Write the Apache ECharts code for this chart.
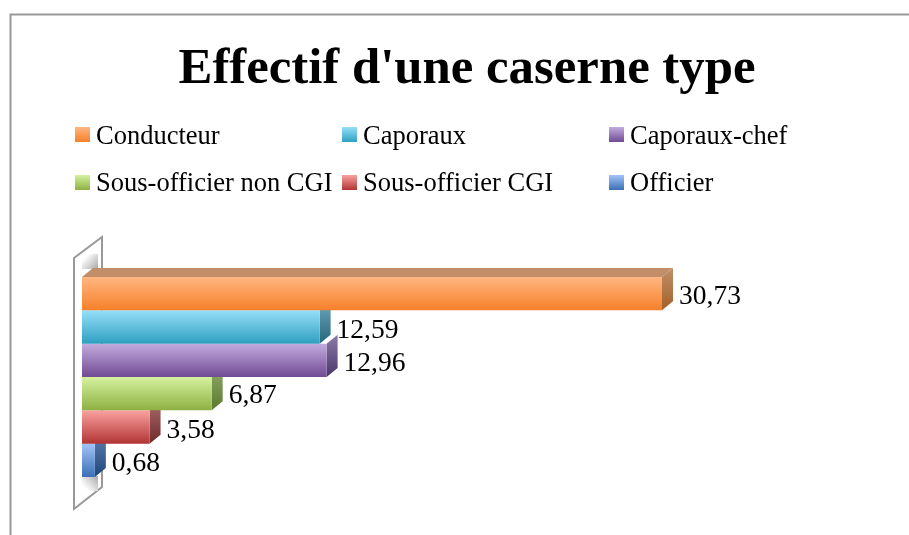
<!DOCTYPE html>
<html>
<head>
<meta charset="utf-8">
<title>Effectif d'une caserne type</title>
<style>
    html, body { margin: 0; padding: 0; background: #fff; }
    #main { width: 909px; height: 535px; }
</style>
<script src="https://cdn.jsdelivr.net/npm/echarts@6/dist/echarts.min.js"></script>
</head>
<body>
<div id="main"></div>
<script>
    var categories = ['Conducteur', 'Caporaux', 'Caporaux-chef', 'Sous-officier non CGI', 'Sous-officier CGI', 'Officier'];
    var values = [30.73, 12.59, 12.96, 6.87, 3.58, 0.68];
    var lightColors = ['#ffb681', '#96dff9', '#c3acdf', '#d5f29f', '#f9a2a0', '#a2c4f7'];
    var darkColors = ['#f6802a', '#2f9fc0', '#704a93', '#8eb042', '#b23434', '#3a6fb5'];
    var sideColors = ['#a3602a', '#24677c', '#47366a', '#5a7a2e', '#702a2a', '#1f4578'];
    var topColors = ['#c28e69', '#6fa6b9', '#8d7ca8', '#8fa868', '#a86a6a', '#5f7fb0'];
    var labelShift = [3, 4, 3, 2, 4, 3];

    var FONT = '"Liberation Serif", serif';
    var DEPTH_X = 11, DEPTH_Y = 9;

    function vGrad(c1, c2) {
        return new echarts.graphic.LinearGradient(0, 0, 0, 1, [
            { offset: 0, color: c1 },
            { offset: 1, color: c2 }
        ]);
    }

    // la barre 3D : face avant, dessus, cote et etiquette
    function drawBar(params, api) {
        var idx = api.value(1);
        var start = api.coord([0, idx]);
        var end = api.coord([api.value(0), idx]);
        var h = api.size([0, 1])[1];
        var x0 = start[0], x1 = end[0], y0 = end[1] - h / 2, y1 = end[1] + h / 2;
        var children = [];
        if (idx === 0) {
            children.push({
                type: 'polygon',
                shape: { points: [[x0, y0], [x0 + DEPTH_X, y0 - DEPTH_Y], [x1 + DEPTH_X, y0 - DEPTH_Y], [x1, y0]] },
                style: { fill: topColors[idx] }
            });
        }
        children.push({
            type: 'polygon',
            shape: { points: [[x1, y0], [x1 + DEPTH_X, y0 - DEPTH_Y], [x1 + DEPTH_X, y1 - DEPTH_Y], [x1, y1]] },
            style: { fill: vGrad(topColors[idx], sideColors[idx]) }
        });
        children.push({
            type: 'rect',
            shape: { x: x0, y: y0, width: x1 - x0, height: h },
            style: { fill: vGrad(lightColors[idx], darkColors[idx]) }
        });
        children.push({
            type: 'text',
            style: {
                x: x1 + 17, y: end[1] + labelShift[idx],
                text: api.value(0).toFixed(2).replace('.', ','),
                font: '27.5px ' + FONT,
                fill: '#000',
                verticalAlign: 'middle'
            }
        });
        return { type: 'group', children: children };
    }

    // les barres du haut passent devant celles du bas
    var series = categories.map(function (name, i) {
        return {
            name: name,
            type: 'custom',
            renderItem: drawBar,
            encode: { x: 0, y: 1 },
            data: [[values[i], i]],
            z: 12 - i,
            itemStyle: { color: vGrad(lightColors[i], darkColors[i]) }
        };
    });

    // le style riche descend le libelle par rapport au carre
    var legendPos = [[75, 124], [342, 124], [609, 124], [75, 171], [342, 171], [609, 171]];
    var legends = categories.map(function (name, i) {
        return {
            data: [{ name: name, icon: 'rect', itemStyle: { color: vGrad(lightColors[i], darkColors[i]) } }],
            left: legendPos[i][0],
            top: legendPos[i][1],
            padding: 0,
            itemWidth: 15,
            itemHeight: 15,
            itemGap: 0,
            formatter: '{t|{name}}',
            textStyle: {
                rich: {
                    t: {
                        fontFamily: FONT, fontSize: 26.5, color: '#000',
                        padding: [i < 3 ? 6 : 4, 0, 0, 1]
                    }
                }
            }
        };
    });

    var chart = echarts.init(document.getElementById('main'), null, { renderer: 'canvas' });
    chart.setOption({
        animation: false,
        backgroundColor: '#fff',
        title: {
            text: "Effectif d'une caserne type",
            left: 462,
            top: 39,
            textAlign: 'center',
            textStyle: { fontFamily: FONT, fontSize: 50.8, fontWeight: 'bold', color: '#000' }
        },
        legend: legends,
        grid: { left: 82, top: 277, width: 580, height: 200 },
        xAxis: { type: 'value', min: 0, max: 30.73, show: false },
        yAxis: { type: 'category', inverse: true, data: categories.map(function (c, i) { return i; }), show: false },
        graphic: [
            // cadre du graphique, coupe par le bord de la page
            {
                type: 'polyline',
                shape: { points: [[10.5, 535], [10.5, 14.5], [909, 14.5]] },
                style: { stroke: '#999', lineWidth: 2, fill: null }
            },
            // paroi 3D derriere les barres
            {
                type: 'polygon',
                shape: { points: [[74, 258], [102, 237], [102, 487], [74, 509]] },
                style: { fill: '#fff', stroke: '#999', lineWidth: 2 }
            },
            {
                type: 'rect',
                shape: { x: 82, y: 254, width: 16, height: 15 },
                style: {
                    fill: new echarts.graphic.LinearGradient(0, 0, 1, 1, [
                        { offset: 0.2, color: '#ffffff' },
                        { offset: 1, color: '#a8a8a8' }
                    ])
                }
            },
            {
                type: 'rect',
                shape: { x: 82, y: 476, width: 16, height: 15 },
                style: {
                    fill: new echarts.graphic.LinearGradient(0, 1, 1, 0, [
                        { offset: 0.2, color: '#ffffff' },
                        { offset: 1, color: '#a8a8a8' }
                    ])
                }
            }
        ],
        series: series
    });
</script>
</body>
</html>
